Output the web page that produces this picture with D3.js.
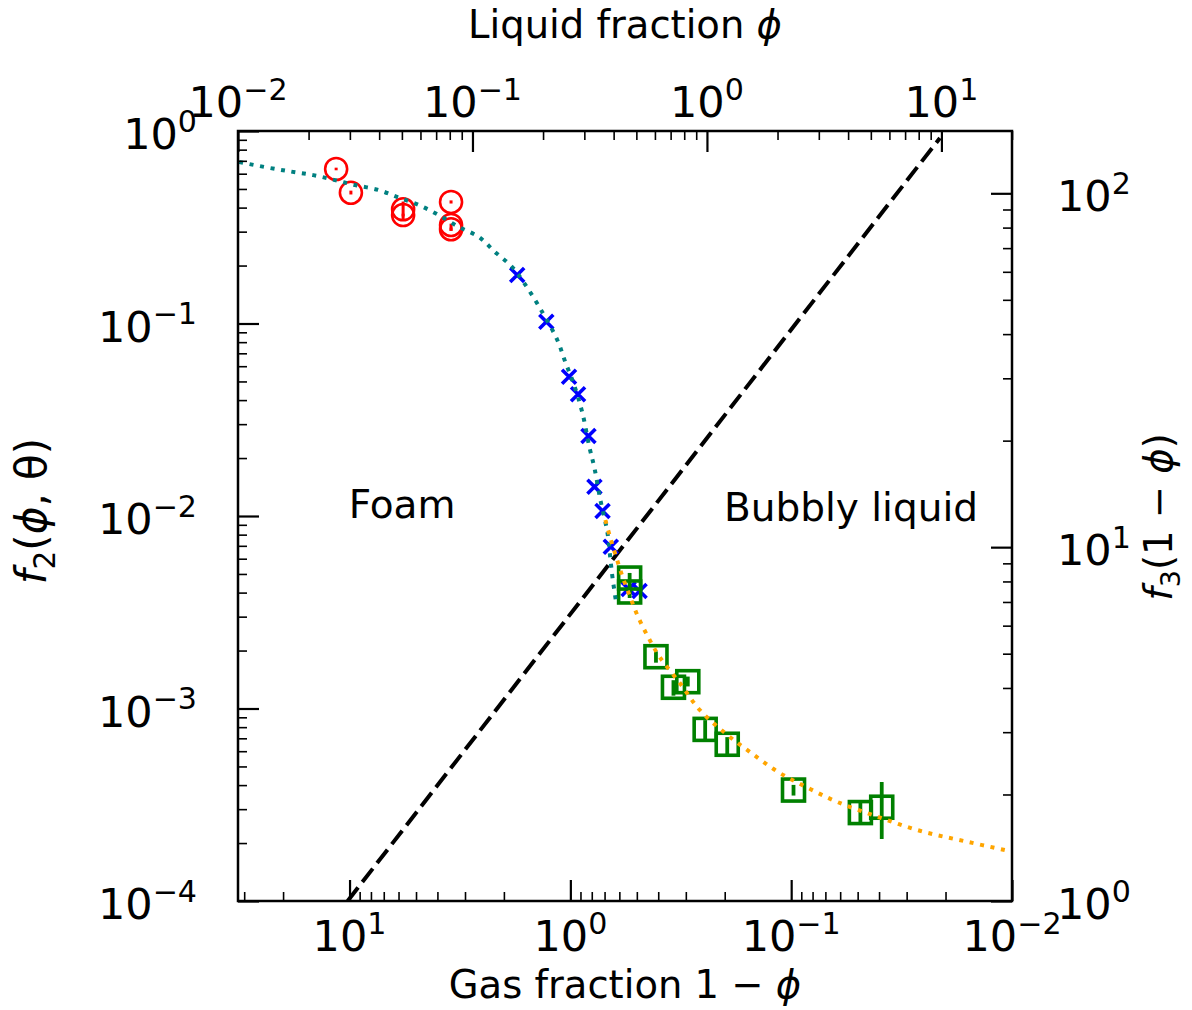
<!DOCTYPE html>
<html><head><meta charset="utf-8">
<script src="https://cdn.jsdelivr.net/npm/d3@7"></script>
<style>
body{margin:0;background:#fff}
svg text{font-family:"DejaVu Sans",sans-serif;fill:#000}
</style>
</head><body>
<svg id="c" width="1192" height="1010"></svg>
<script>
// ---------------- data ----------------
// Foam experiments (red circles): gas fraction, f2, error low/high
const redGas = [11.5, 9.86, 5.72, 5.72, 3.47, 3.47, 3.47];
const redF2  = [0.635, 0.478, 0.392, 0.366, 0.428, 0.325, 0.309];
const redLo  = [0.625, 0.468, 0.345, 0.360, 0.420, 0.303, 0.303];
const redHi  = [0.645, 0.490, 0.430, 0.372, 0.436, 0.330, 0.315];

// Simulations (blue crosses)
const blueGas = [1.741, 1.285, 1.014, 0.923, 0.828, 0.778, 0.715, 0.656, 0.545, 0.486];
const blueF2  = [0.1786, 0.1022, 0.0529, 0.0429, 0.02603, 0.0142, 0.01062, 0.00693, 0.00418, 0.00408];

// Bubbly liquid experiments (green squares)
const greenGas = [0.539, 0.539, 0.4096, 0.3413, 0.2939, 0.2452, 0.1948, 0.0976, 0.0486, 0.0389];
const greenF2  = [0.00476, 0.00403, 0.001858, 0.001289, 0.001378, 0.000779, 0.000652, 0.000377, 0.000288, 0.000307];
const greenLo  = [0.00375, 0.00395, 0.00173, 0.001166, 0.001302, 0.00067, 0.00056, 0.000353, 0.000254, 0.00021];
const greenHi  = [0.00506, 0.00410, 0.00198, 0.001403, 0.001465, 0.00087, 0.00071, 0.000401, 0.000323, 0.000415];

// Foam model (teal dotted)
const foamModelGas = [31.6, 23.4, 18.35, 14.6, 11.66, 9.46, 7.41, 6.01, 4.87, 3.95, 3.21, 2.60, 2.19, 1.835, 1.618, 1.341, 1.146, 1.054, 0.969, 0.882, 0.820, 0.778, 0.731, 0.679, 0.658, 0.644, 0.618];
const foamModelF2  = [0.690, 0.645, 0.615, 0.590, 0.556, 0.524, 0.494, 0.452, 0.413, 0.366, 0.318, 0.282, 0.235, 0.1966, 0.1623, 0.1147, 0.0821, 0.0631, 0.0491, 0.0343, 0.0228, 0.01776, 0.01211, 0.00816, 0.0059, 0.00476, 0.00345];

// Bubbly liquid model (orange dotted)
const bubblyModelGas = [0.694, 0.665, 0.624, 0.580, 0.534, 0.491, 0.442, 0.394, 0.3196, 0.2593, 0.1995, 0.1536, 0.1146, 0.0855, 0.0618, 0.0402, 0.0259, 0.01653, 0.01032];
const bubblyModelF2  = [0.00953, 0.00796, 0.00627, 0.00482, 0.00375, 0.002953, 0.002323, 0.001851, 0.001357, 0.000982, 0.000746, 0.000594, 0.000468, 0.000391, 0.000327, 0.000273, 0.000231, 0.000205, 0.000182];

// Crossover line (black dashed)
const ruleGas = [10.2, 0.0212];
const ruleF2  = [1e-4, 0.92];

// Axis domains and ticks
const gasDomain = [32, 0.01];
const liquidDomain = [0.01, 20];
const f2Domain = [1e-4, 1];
const f3Domain = [1, 150];
const bottomTicks = [10, 1, 0.1, 0.01];
const bottomTickExp = ["1", "0", "\u22121", "\u22122"];
const topTicks = [0.01, 0.1, 1, 10];
const topTickExp = ["\u22122", "\u22121", "0", "1"];
const leftTicks = [1, 0.1, 0.01, 0.001, 0.0001];
const leftTickExp = ["0", "\u22121", "\u22122", "\u22123", "\u22124"];
const rightTicks = [100, 10, 1];
const rightTickExp = ["2", "1", "0"];

const annotations = [
  {text: "Foam", gas: 5.78, f2: 0.00976},
  {text: "Bubbly liquid", gas: 0.0536, f2: 0.00942}
];

// ---------------- layout ----------------
const M = {l: 238, r: 1012, t: 131, b: 901};
const TICK_FS = 43, TITLE_FS = 38.5, ANN_FS = 39;

const svg = d3.select("#c");
const x = d3.scaleLog().domain(gasDomain).range([M.l, M.r]);
const xTop = d3.scaleLog().domain(liquidDomain).range([M.l, M.r]);
const yL = d3.scaleLog().domain(f2Domain).range([M.b, M.t]);
const yR = d3.scaleLog().domain(f3Domain).range([M.b, M.t]);

svg.append("defs").append("clipPath").attr("id", "clip")
  .append("rect").attr("x", M.l).attr("y", M.t).attr("width", M.r - M.l).attr("height", M.b - M.t);

const plot = svg.append("g").attr("clip-path", "url(#clip)");
const line = d3.line().x(d => x(d[0])).y(d => yL(d[1]));

// dashed crossover line
plot.append("path").datum(d3.zip(ruleGas, ruleF2))
  .attr("d", line).attr("fill", "none").attr("stroke", "#000")
  .attr("stroke-width", 4).attr("stroke-dasharray", "17,7");

// red circles with error bars
const red = d3.range(redGas.length);
plot.append("g").selectAll("line").data(red).join("line")
  .attr("x1", i => x(redGas[i])).attr("x2", i => x(redGas[i]))
  .attr("y1", i => yL(redLo[i])).attr("y2", i => yL(redHi[i]))
  .attr("stroke", "red").attr("stroke-width", 3);
plot.append("g").selectAll("circle").data(red).join("circle")
  .attr("cx", i => x(redGas[i])).attr("cy", i => yL(redF2[i])).attr("r", 11)
  .attr("fill", "none").attr("stroke", "red").attr("stroke-width", 2.6);

// blue crosses
plot.append("g").selectAll("path").data(d3.range(blueGas.length)).join("path")
  .attr("transform", i => `translate(${x(blueGas[i])},${yL(blueF2[i])})`)
  .attr("d", "M-7,-7L7,7M-7,7L7,-7")
  .attr("stroke", "#0000ff").attr("stroke-width", 3.6).attr("fill", "none");

// green squares with error bars
const green = d3.range(greenGas.length);
plot.append("g").selectAll("line").data(green).join("line")
  .attr("x1", i => x(greenGas[i])).attr("x2", i => x(greenGas[i]))
  .attr("y1", i => yL(greenLo[i])).attr("y2", i => yL(greenHi[i]))
  .attr("stroke", "green").attr("stroke-width", 3.8);
plot.append("g").selectAll("rect").data(green).join("rect")
  .attr("x", i => x(greenGas[i]) - 11).attr("y", i => yL(greenF2[i]) - 11)
  .attr("width", 22).attr("height", 22)
  .attr("fill", "none").attr("stroke", "green").attr("stroke-width", 3.6);

// model curves (dotted)
const smooth = d3.line().x(d => x(d[0])).y(d => yL(d[1])).curve(d3.curveCatmullRom);
plot.append("path").datum(d3.zip(foamModelGas, foamModelF2))
  .attr("d", smooth).attr("fill", "none").attr("stroke", "teal")
  .attr("stroke-width", 4).attr("stroke-dasharray", "4,6.6");
plot.append("path").datum(d3.zip(bubblyModelGas, bubblyModelF2))
  .attr("d", smooth).attr("fill", "none").attr("stroke", "orange")
  .attr("stroke-width", 4).attr("stroke-dasharray", "4,6.6");

// annotations
svg.append("g").selectAll("text").data(annotations).join("text")
  .attr("x", d => x(d.gas)).attr("y", d => yL(d.f2))
  .attr("text-anchor", "middle").attr("font-size", ANN_FS).text(d => d.text);

// ---------------- axes ----------------
const isMajor = v => Math.abs(Math.log10(v) - Math.round(Math.log10(v))) < 1e-9;
const minorOf = s => s.ticks(20).filter(v => !isMajor(v));

function tickAxis(gen, scale, transform, majors) {
  const g = svg.append("g").attr("transform", transform);
  g.append("g").call(gen(scale).tickValues(minorOf(scale)).tickSize(-9).tickFormat(""))
    .call(a => a.select(".domain").remove())
    .selectAll("line").attr("stroke", "#000").attr("stroke-width", 1.6);
  g.append("g").call(gen(scale).tickValues(majors).tickSize(-21).tickFormat(""))
    .call(a => a.select(".domain").remove())
    .selectAll("line").attr("stroke", "#000").attr("stroke-width", 2.2);
}
tickAxis(d3.axisBottom, x, `translate(0,${M.b})`, bottomTicks);
tickAxis(d3.axisTop, xTop, `translate(0,${M.t})`, topTicks);
tickAxis(d3.axisLeft, yL, `translate(${M.l},0)`, leftTicks);
tickAxis(d3.axisRight, yR, `translate(${M.r},0)`, rightTicks);

function powLabel(sel, exp) {
  sel.append("tspan").text("10");
  sel.append("tspan").attr("font-size", TICK_FS * 0.7).attr("dy", -TICK_FS * 0.4).text(exp);
}
const tickLayer = svg.append("g").attr("font-size", TICK_FS);
bottomTicks.forEach((v, i) => {
  const t = tickLayer.append("text").attr("x", x(v)).attr("y", M.b + 50).attr("text-anchor", "middle");
  powLabel(t, bottomTickExp[i]);
});
topTicks.forEach((v, i) => {
  const t = tickLayer.append("text").attr("x", xTop(v)).attr("y", M.t - 14).attr("text-anchor", "middle");
  powLabel(t, topTickExp[i]);
});
leftTicks.forEach((v, i) => {
  const t = tickLayer.append("text").attr("x", M.l - 41).attr("y", yL(v) + 18).attr("text-anchor", "end");
  powLabel(t, leftTickExp[i]);
});
rightTicks.forEach((v, i) => {
  const t = tickLayer.append("text").attr("x", M.r + 45).attr("y", yR(v) + 18).attr("text-anchor", "start");
  powLabel(t, rightTickExp[i]);
});

// axis titles
function rich(t, parts, fs) {
  let shift = 0;
  parts.forEach(p => {
    const s = t.append("tspan").text(p.t);
    const target = p.sub ? fs * 0.22 : 0;
    if (target !== shift) { s.attr("dy", target - shift); shift = target; }
    if (p.sub) s.attr("font-size", fs * 0.7);
    if (p.it) s.attr("font-style", "italic");
  });
}
const titles = svg.append("g").attr("font-size", TITLE_FS);
rich(titles.append("text").attr("x", (M.l + M.r) / 2).attr("y", 38).attr("text-anchor", "middle"),
  [{t: "Liquid fraction "}, {t: "\u03d5", it: true}], TITLE_FS);
rich(titles.append("text").attr("x", (M.l + M.r) / 2).attr("y", 998).attr("text-anchor", "middle"),
  [{t: "Gas fraction 1 \u2212 "}, {t: "\u03d5", it: true}], TITLE_FS);
rich(titles.append("text").attr("font-size", 42).attr("transform", `translate(46,511) rotate(-90)`).attr("text-anchor", "middle"),
  [{t: "f", it: true}, {t: "2", sub: true}, {t: "("}, {t: "\u03d5", it: true}, {t: ", \u03b8)"}], 42);
rich(titles.append("text").attr("transform", `translate(1172,517) rotate(-90)`).attr("text-anchor", "middle"),
  [{t: "f", it: true}, {t: "3", sub: true}, {t: "(1 \u2212 "}, {t: "\u03d5", it: true}, {t: ")"}], TITLE_FS);

// frame
svg.append("rect").attr("x", M.l).attr("y", M.t).attr("width", M.r - M.l).attr("height", M.b - M.t)
  .attr("fill", "none").attr("stroke", "#000").attr("stroke-width", 2.5);
</script>
</body></html>
